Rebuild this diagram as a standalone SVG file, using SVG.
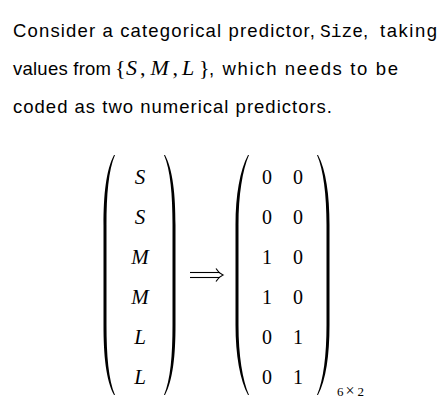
<svg xmlns="http://www.w3.org/2000/svg" width="448" height="418" viewBox="0 0 448 418">
<style>
.txt{font-family:"Liberation Sans","DejaVu Sans",sans-serif;font-size:18.5px;fill:#000}
.mono{font-family:"Liberation Mono","DejaVu Sans Mono",monospace}
.math{font-family:"Liberation Serif","DejaVu Serif",serif;font-size:22px}
.it{font-style:italic}
.ent{font-family:"Liberation Serif","DejaVu Serif",serif;font-size:21px;fill:#000;text-anchor:middle}
.num{font-family:"Liberation Serif","DejaVu Serif",serif;font-size:20px;fill:#000;text-anchor:middle}
.sub{font-family:"Liberation Serif","DejaVu Serif",serif;font-size:13px;fill:#000}
.paren{fill:#000;stroke:none}
.arr{stroke:#000;stroke-width:1.1;fill:none}
</style>
<rect width="448" height="418" fill="#fff"/>
<g id="caption">
<text class="txt" y="37"><tspan x="13" textLength="302" lengthAdjust="spacing">Consider a categorical predictor,</tspan><tspan class="mono" x="320" textLength="43" lengthAdjust="spacingAndGlyphs">Size</tspan><tspan x="363">,</tspan><tspan x="380" textLength="57" lengthAdjust="spacing">taking</tspan></text>
<text class="txt" y="75"><tspan x="13" textLength="98" lengthAdjust="spacing">values from</tspan><tspan class="math" x="115">{</tspan><tspan class="math it" x="126">S</tspan><tspan class="math" x="140">,</tspan><tspan class="math it" x="150.5">M</tspan><tspan class="math" x="172.5">,</tspan><tspan class="math it" x="182">L</tspan><tspan class="math" x="199">}</tspan><tspan x="209" textLength="189" lengthAdjust="spacing">, which needs to be</tspan></text>
<text class="txt" y="113"><tspan x="13" textLength="319" lengthAdjust="spacing">coded as two numerical predictors.</tspan></text>
</g>
<g id="left-matrix">
<path class="paren" d="M114,155 C106,170 103.5,195 103.5,225 L103.5,325 C103.5,355 106,380 114,395 L115,395 C108.5,380 106.5,355 106.5,325 L106.5,225 C106.5,195 108.5,170 115,155 Z"/>
<path class="paren" d="M165,155 C173,170 175.5,195 175.5,225 L175.5,325 C175.5,355 173,380 165,395 L164,395 C170.5,380 172.5,355 172.5,325 L172.5,225 C172.5,195 170.5,170 164,155 Z"/>
<text class="ent it" x="140" y="184">S</text>
<text class="ent it" x="140" y="224">S</text>
<text class="ent it" x="140" y="264">M</text>
<text class="ent it" x="140" y="304">M</text>
<text class="ent it" x="140" y="344">L</text>
<text class="ent it" x="140" y="384">L</text>
</g>
<g id="connectors">
<line class="arr" x1="190" y1="272.5" x2="220" y2="272.5"/>
<line class="arr" x1="190" y1="277.5" x2="220" y2="277.5"/>
<path class="arr" d="M216,268.5 Q218.5,273 223,275 Q218.5,277 216,281.5"/>
</g>
<g id="right-matrix">
<path class="paren" d="M248,155 C240,170 235.5,195 235.5,225 L235.5,325 C235.5,355 240,380 248,395 L249,395 C242.5,380 238.5,355 238.5,325 L238.5,225 C238.5,195 242.5,170 249,155 Z"/>
<path class="paren" d="M318,155 C326,170 329.5,195 329.5,225 L329.5,325 C329.5,355 326,380 318,395 L317,395 C323.5,380 326.5,355 326.5,325 L326.5,225 C326.5,195 323.5,170 317,155 Z"/>
<text class="num" x="267" y="184">0</text><text class="num" x="298" y="184">0</text>
<text class="num" x="267" y="224">0</text><text class="num" x="298" y="224">0</text>
<text class="num" x="267" y="264">1</text><text class="num" x="298" y="264">0</text>
<text class="num" x="267" y="304">1</text><text class="num" x="298" y="304">0</text>
<text class="num" x="267" y="344">0</text><text class="num" x="298" y="344">1</text>
<text class="num" x="267" y="384">0</text><text class="num" x="298" y="384">1</text>
<text class="sub" y="396"><tspan x="337">6</tspan><tspan x="345.5" font-size="16">×</tspan><tspan x="357.5">2</tspan></text>
</g>
</svg>
